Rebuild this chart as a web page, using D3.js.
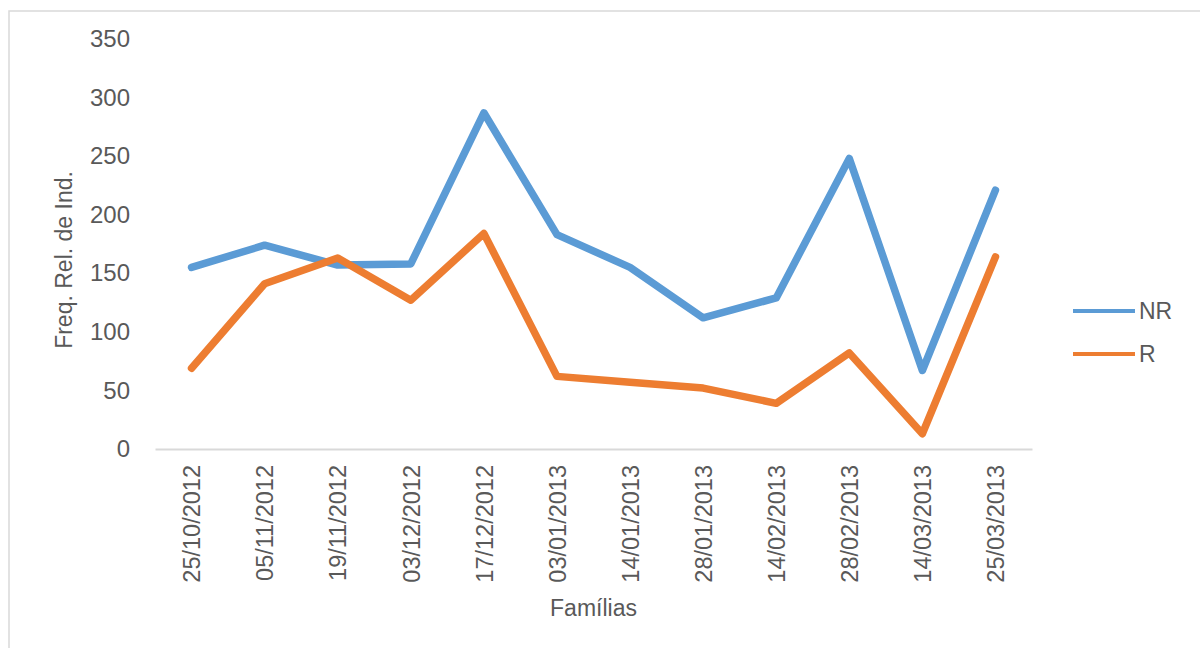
<!DOCTYPE html>
<html>
<head>
<meta charset="utf-8">
<script src="https://cdn.jsdelivr.net/npm/d3@7"></script>
<style>
  body { margin: 0; background: #fff; }
  text { font-family: "Liberation Sans", Arial, sans-serif; fill: #595959; }
</style>
</head>
<body>
<div id="chart"></div>
<script>
// data
const dates = ["25/10/2012", "05/11/2012", "19/11/2012", "03/12/2012", "17/12/2012", "03/01/2013",
  "14/01/2013", "28/01/2013", "14/02/2013", "28/02/2013", "14/03/2013", "25/03/2013"];
const nrValues = [155, 174, 157, 158, 287, 183, 155, 112, 129, 248, 67, 221];
const rValues = [69, 141, 163, 127, 184, 62, 57, 52, 39, 82, 13, 164];
const yTicks = [0, 50, 100, 150, 200, 250, 300, 350];

const series = [
  { name: "NR", values: nrValues, color: "#5b9bd5" },
  { name: "R", values: rValues, color: "#ed7d31" }
];

// dimensions
const W = 1200, H = 648;
const margin = { top: 39, right: 168, bottom: 199, left: 155 };
const width = W - margin.left - margin.right;
const height = H - margin.top - margin.bottom;

const root = d3.select("#chart").append("svg")
  .attr("width", W)
  .attr("height", H);

// chart frame
root.append("rect")
  .attr("x", 9).attr("y", 11)
  .attr("width", W + 20).attr("height", H + 20)
  .attr("fill", "none")
  .attr("stroke", "#d9d9d9")
  .attr("stroke-width", 1.5);

const svg = root.append("g")
  .attr("transform", `translate(${margin.left},${margin.top})`);

// scales
const x = d3.scalePoint()
  .domain(dates)
  .range([0, width])
  .padding(0.5);

const y = d3.scaleLinear()
  .domain([0, 350])
  .range([height, 0]);

// axes
const yAxis = d3.axisLeft(y).tickValues(yTicks).tickSize(0).tickPadding(25);
const yG = svg.append("g").call(yAxis);
yG.select(".domain").remove();
yG.selectAll("text")
  .style("font-size", "24px")
  .style("fill", "#595959")
  .style("font-family", "'Liberation Sans', Arial, sans-serif");

const xAxis = d3.axisBottom(x).tickSize(0);
const xG = svg.append("g")
  .attr("transform", `translate(0,${height})`)
  .call(xAxis);
xG.select(".domain")
  .attr("stroke", "#d9d9d9")
  .attr("stroke-width", 2);
xG.selectAll("text")
  .attr("transform", "rotate(-90)")
  .attr("text-anchor", "end")
  .attr("x", -16)
  .attr("y", 0)
  .attr("dy", "0.35em")
  .style("font-size", "23.5px")
  .style("fill", "#595959")
  .style("font-family", "'Liberation Sans', Arial, sans-serif");

// labels
svg.append("text")
  .attr("x", width / 2)
  .attr("y", height + 167)
  .attr("text-anchor", "middle")
  .style("font-size", "23px")
  .text("Famílias");

svg.append("text")
  .attr("transform", "rotate(-90)")
  .attr("x", -(260 - margin.top))
  .attr("y", 64 - margin.left)
  .attr("dy", "0.35em")
  .attr("text-anchor", "middle")
  .style("font-size", "23px")
  .text("Freq. Rel. de Ind.");

// lines
const line = d3.line()
  .x((d, i) => x(dates[i]))
  .y(d => y(d));

svg.selectAll(".series")
  .data(series)
  .join("path")
  .attr("class", "series")
  .attr("fill", "none")
  .attr("stroke", d => d.color)
  .attr("stroke-width", 7.5)
  .attr("stroke-linejoin", "round")
  .attr("stroke-linecap", "round")
  .attr("d", d => line(d.values));

// legend
const legend = root.append("g")
  .selectAll("g")
  .data(series)
  .join("g")
  .attr("transform", (d, i) => `translate(1073,${311 + i * 43})`);

legend.append("line")
  .attr("x1", 0).attr("x2", 62)
  .attr("stroke", d => d.color)
  .attr("stroke-width", 4);

legend.append("text")
  .attr("x", 66)
  .attr("dy", "0.35em")
  .style("font-size", "23px")
  .text(d => d.name);
</script>
</body>
</html>
